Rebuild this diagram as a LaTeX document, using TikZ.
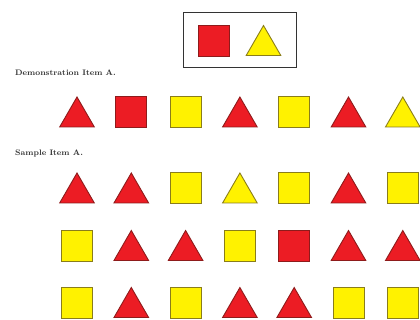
\documentclass[tikz,border=0pt]{standalone}
\usetikzlibrary{shapes.geometric}
\definecolor{shred}{HTML}{EC1C24}
\definecolor{shredline}{HTML}{8E1B1B}
\definecolor{shyel}{HTML}{FFF200}
\definecolor{shyelline}{HTML}{8A7D1A}
\definecolor{boxline}{HTML}{333333}
\begin{document}
\begin{tikzpicture}[x=1pt,y=-1pt,
  sq/.style={draw, rectangle, minimum size=31pt, inner sep=0pt, outer sep=0pt, line width=0.9pt},
  tri/.style={draw, regular polygon, regular polygon sides=3, minimum size=40pt, inner sep=0pt, outer sep=0pt, line width=0.9pt, yshift=-5pt},
  redc/.style={fill=shred, draw=shredline},
  yelc/.style={fill=shyel, draw=shyelline},
  Tr/.style={tri, redc}, Ty/.style={tri, yelc},
  Sr/.style={sq, redc}, Sy/.style={sq, yelc},
  lbl/.style={font=\bfseries\fontsize{8}{9}\selectfont, anchor=west, inner sep=0pt, text=black!80},
  legendbox/.style={draw=boxline, line width=1.4pt, rectangle, minimum width=113pt, minimum height=55pt, inner sep=0pt}]
\useasboundingbox (0,0) rectangle (420,320);
% legend box
\node[legendbox] (legend) at (240,40) {};
\node[Sr] (lsq) at (214,41) {};
\node[Ty] (ltri) at (263.5,40.5) {};
% labels
\node[lbl] (demolabel) at (15,73) {Demonstration Item A.};
\node[lbl] (samplelabel) at (15,153) {Sample Item A.};
% rows
\foreach \row/\yy/\spec in {
  d/112/{Tr,Sr,Sy,Tr,Sy,Tr,Ty},
  a/188/{Tr,Tr,Sy,Ty,Sy,Tr,Sy},
  b/245.5/{Sy,Tr,Tr,Sy,Sr,Tr,Tr},
  c/302.5/{Sy,Tr,Sy,Tr,Tr,Sy,Sy}} {
  \foreach \code [count=\i] in \spec {
    \node[\code] (\row\i) at ({77+54.3*(\i-1)},\yy) {};
  }
}
\end{tikzpicture}
\end{document}
